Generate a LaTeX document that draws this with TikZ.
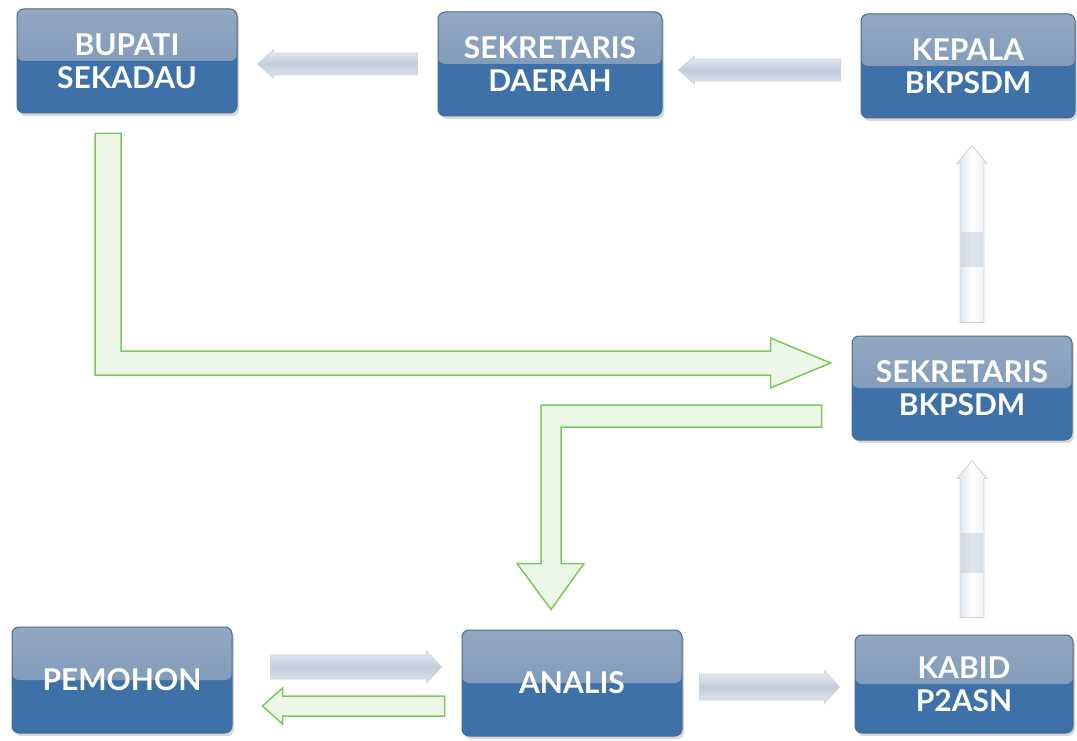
\documentclass[tikz,border=0pt]{standalone}
\usepackage{fontspec}
\setmainfont{Lato}
\usetikzlibrary{calc,shadows}
\definecolor{boxtop}{HTML}{93A8C2}
\definecolor{boxmid}{HTML}{7190B4}
\definecolor{boxlow}{HTML}{3E71A8}
\definecolor{boxedge}{HTML}{4A6B92}
\definecolor{arrlight}{HTML}{E9EDF4}
\definecolor{arrmid}{HTML}{C2CBDA}
\definecolor{arredge}{HTML}{CBD3DF}
\definecolor{grnedge}{HTML}{7CC95B}
\definecolor{grnfill}{HTML}{EDF7E7}
\tikzset{
  box/.style={rectangle,rounded corners=7pt,minimum width=220pt,minimum height=104pt,
    draw=boxedge,line width=1pt,fill=boxlow,text=white,align=center,
    font=\fontsize{30}{33}\selectfont\bfseries,
    drop shadow={shadow xshift=2pt,shadow yshift=-3pt,opacity=0.3},
    path picture={\shade[top color=boxtop,bottom color=boxmid]
      (path picture bounding box.north west) rectangle (path picture bounding box.east);}},
  grayh/.style={draw=arredge,line width=0.8pt,top color=arrlight,bottom color=arrlight!80!arrmid,middle color=arrmid},
  grayv/.style={draw=arredge,line width=0.8pt,left color=arrmid!60!white,right color=arrlight,middle color=white},
  flowarr/.style={draw=grnedge,line width=1.5pt,fill=grnfill,line join=miter}
}
% block arrow: style, from, to, shaft half width, head half width, head length
\newcommand{\blockarrow}[6]{%
  \coordinate (hb) at ($(#3)!#6!(#2)$);
  \draw[#1] ($(#2)!#4!90:(#3)$) -- ($(hb)!#4!90:(#3)$) -- ($(hb)!#5!90:(#3)$) -- (#3)
    -- ($(hb)!#5!-90:(#3)$) -- ($(hb)!#4!-90:(#3)$) -- ($(#2)!#4!-90:(#3)$) -- cycle;}

\begin{document}
\begin{tikzpicture}[x=1pt,y=-1pt]
  \useasboundingbox[fill=white] (0,0) rectangle (1077,741);

  % boxes
  \node[box] (bupati) at (127,61) {BUPATI\\SEKADAU};
  \node[box,minimum width=224pt] (sekda) at (550,64) {SEKRETARIS\\DAERAH};
  \node[box,minimum width=214pt] (kepala) at (968,66) {KEPALA\\BKPSDM};
  \node[box] (sekbk) at (962,388) {SEKRETARIS\\BKPSDM};
  \node[box,minimum height=106pt] (pemohon) at (122,680) {PEMOHON};
  \node[box,minimum height=106pt] (analis) at (572,683) {ANALIS};
  \node[box,minimum width=218pt,minimum height=98pt] (kabid) at (964,684) {KABID\\P2ASN};

  % gray arrows
  \coordinate (a1s) at ($(sekda.west)+(-20,0)$);
  \coordinate (a1e) at ($(a1s -| bupati.east)+(20,0)$);
  \blockarrow{grayh}{a1s}{a1e}{11pt}{14pt}{16pt}

  \coordinate (a2s) at ($(kepala.west)+(-20,4)$);
  \coordinate (a2e) at ($(a2s -| sekda.east)+(16,0)$);
  \blockarrow{grayh}{a2s}{a2e}{11pt}{14pt}{16pt}

  \coordinate (a3s) at ($(sekbk.north)+(10,-13)$);
  \coordinate (a3e) at ($(a3s |- kepala.south)+(0,27)$);
  \blockarrow{grayv}{a3s}{a3e}{12pt}{15pt}{18pt}
  \fill[arrmid,opacity=0.5] ($(a3s)+(-11,-56)$) rectangle ($(a3s)+(11,-91)$);

  \coordinate (a4s) at ($(kabid.north)+(8,-17)$);
  \coordinate (a4e) at ($(a4s |- sekbk.south)+(0,20)$);
  \blockarrow{grayv}{a4s}{a4e}{12pt}{15pt}{18pt}
  \fill[arrmid,opacity=0.5] ($(a4s)+(-11,-45)$) rectangle ($(a4s)+(11,-85)$);

  \coordinate (a5s) at ($(pemohon.east)+(38,-13)$);
  \coordinate (a5e) at ($(a5s -| analis.west)+(-20,0)$);
  \blockarrow{grayh}{a5s}{a5e}{12pt}{16pt}{15pt}

  \coordinate (a6s) at ($(analis.east)+(17,4)$);
  \coordinate (a6e) at ($(a6s -| kabid.west)+(-15,0)$);
  \blockarrow{grayh}{a6s}{a6e}{13pt}{16pt}{15pt}

  % green arrows
  \coordinate (a7s) at ($(analis.west)+(-17,23)$);
  \coordinate (a7e) at ($(a7s -| pemohon.east)+(30,0)$);
  \blockarrow{flowarr}{a7s}{a7e}{10pt}{18pt}{20pt}

  \coordinate (g1s) at ($(bupati.south)+(-19,20)$);
  \coordinate (g1e) at ($(sekbk.west)+(-21,-25)$);
  \draw[flowarr] ($(g1s)+(-13,0)$) -- ($(g1s)+(13,0)$) |- ($(g1e)+(-60,-12)$)
    -- ($(g1e)+(-60,-25)$) -- (g1e) -- ($(g1e)+(-60,25)$) -- ($(g1e)+(-60,12)$)
    -| ($(g1s)+(-13,0)$) -- cycle;

  \coordinate (g2s) at ($(sekbk.west)+(-30,28)$);
  \coordinate (g2e) at ($(analis.north)+(-21,-20)$);
  \draw[flowarr] ($(g2s)+(0,-11)$) -| ($(g2e)+(-10,-46)$) -- ($(g2e)+(-34,-46)$)
    -- (g2e) -- ($(g2e)+(33,-46)$) -- ($(g2e)+(10,-46)$) |- ($(g2s)+(0,11)$) -- cycle;
\end{tikzpicture}
\end{document}
